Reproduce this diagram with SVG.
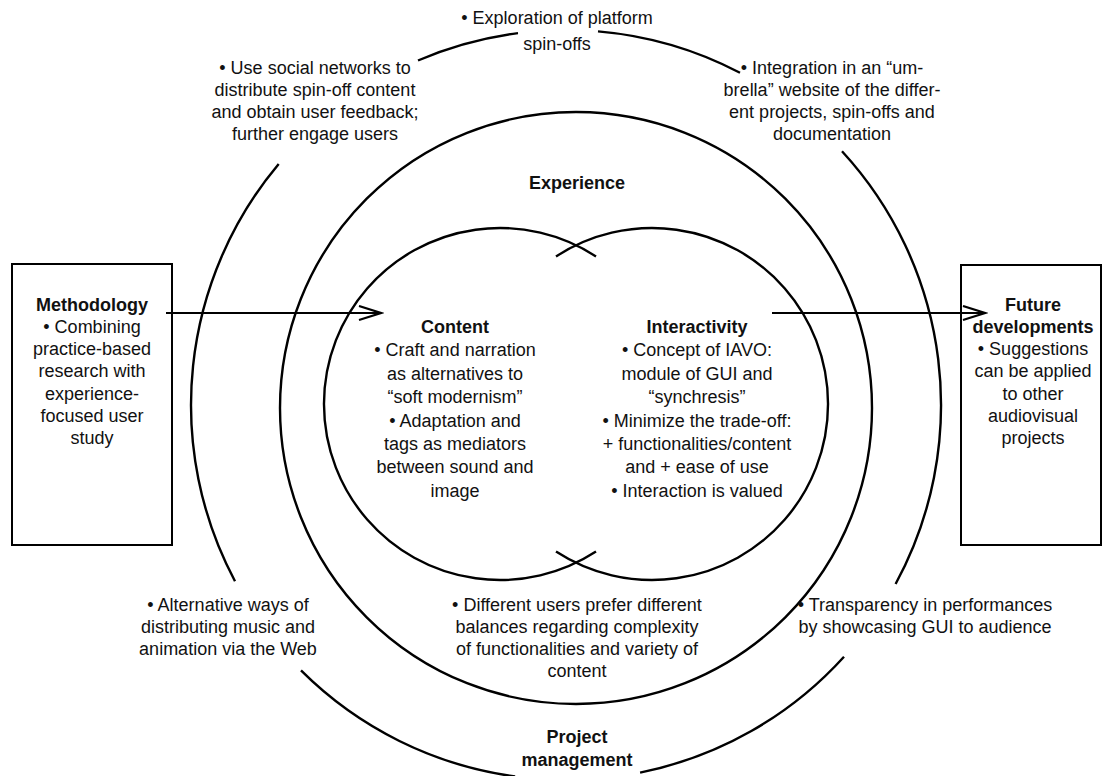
<svg xmlns="http://www.w3.org/2000/svg" width="1113" height="776" viewBox="0 0 1113 776">
  <style>
    text { font-family: "Liberation Sans", Arial, Helvetica, sans-serif; font-size: 18px; fill: #111; text-anchor: middle; }
    .b { font-weight: bold; }
    .ring { fill: none; stroke: #000; stroke-width: 2.4; }
    .box { fill: #fff; stroke: #000; stroke-width: 2; }
    .flow { fill: none; stroke: #000; stroke-width: 2.2; marker-end: url(#chev); }
  </style>
  <defs>
    <marker id="chev" markerUnits="userSpaceOnUse" markerWidth="26" markerHeight="18" refX="23" refY="8" orient="auto">
      <path d="M1,1 L23,8 L1,15" fill="none" stroke="#000" stroke-width="2.2"/>
    </marker>
  </defs>
  <rect width="1113" height="776" fill="#fff"/>

  <!-- outer ring: project management, broken where its notes sit -->
  <g id="ring-outer">
    <path class="ring" d="M598,31.4 A375,375 0 0 1 740,72.8"/>
    <path class="ring" d="M842,151.2 A375,375 0 0 1 895.6,584"/>
    <path class="ring" d="M844,656.7 A375,375 0 0 1 640.1,772.6"/>
    <path class="ring" d="M515.1,776.5 A375,375 0 0 1 301,670.4"/>
    <path class="ring" d="M235,581.2 A375,375 0 0 1 278.7,164"/>
    <path class="ring" d="M418,60.5 A375,375 0 0 1 518,33.1"/>
  </g>

  <!-- middle ring: experience -->
  <g id="ring-experience">
    <circle class="ring" cx="576" cy="408" r="296"/>
  </g>

  <!-- inner pair: content and interactivity -->
  <g id="ring-content">
    <path class="ring" d="M596,256.5 A176,176 0 1 0 596,551.5"/>
  </g>
  <g id="ring-interactivity">
    <path class="ring" d="M556,256.5 A176,176 0 1 1 556,551.5"/>
  </g>

  <g id="node-methodology">
    <rect class="box" x="12" y="264" width="160" height="281"/>
    <text x="92" y="311" class="b">Methodology</text>
    <text x="92" y="333">• Combining</text>
    <text x="92" y="355">practice-based</text>
    <text x="92" y="377">research with</text>
    <text x="92" y="400">experience-</text>
    <text x="92" y="422">focused user</text>
    <text x="92" y="444">study</text>
  </g>

  <g id="node-future">
    <rect class="box" x="961" y="265" width="140" height="280"/>
    <text x="1033" y="311" class="b">Future</text>
    <text x="1033" y="333" class="b">developments</text>
    <text x="1033" y="355">• Suggestions</text>
    <text x="1033" y="377">can be applied</text>
    <text x="1033" y="400">to other</text>
    <text x="1033" y="422">audiovisual</text>
    <text x="1033" y="444">projects</text>
  </g>

  <g id="connectors">
    <line class="flow" x1="166" y1="313" x2="381" y2="313"/>
    <line class="flow" x1="772" y1="313" x2="985" y2="313"/>
  </g>

  <g id="label-content">
    <text x="455" y="333" class="b">Content</text>
    <text x="455" y="356.4">• Craft and narration</text>
    <text x="455" y="379.8">as alternatives to</text>
    <text x="455" y="403.2">“soft modernism”</text>
    <text x="455" y="426.6">• Adaptation and</text>
    <text x="455" y="450">tags as mediators</text>
    <text x="455" y="473.4">between sound and</text>
    <text x="455" y="496.8">image</text>
  </g>

  <g id="label-interactivity">
    <text x="697" y="333" class="b">Interactivity</text>
    <text x="697" y="356.4">• Concept of IAVO:</text>
    <text x="697" y="379.8">module of GUI and</text>
    <text x="697" y="403.2">“synchresis”</text>
    <text x="697" y="426.6">• Minimize the trade-off:</text>
    <text x="697" y="450">+ functionalities/content</text>
    <text x="697" y="473.4">and + ease of use</text>
    <text x="697" y="496.8">• Interaction is valued</text>
  </g>

  <g id="label-experience">
    <text x="577" y="189" class="b">Experience</text>
    <text x="577" y="611">• Different users prefer different</text>
    <text x="577" y="633">balances regarding complexity</text>
    <text x="577" y="655">of functionalities and variety of</text>
    <text x="577" y="677">content</text>
  </g>

  <g id="label-project">
    <text x="557" y="24">• Exploration of platform</text>
    <text x="557" y="50">spin-offs</text>
    <text x="315" y="74">• Use social networks to</text>
    <text x="315" y="96">distribute spin-off content</text>
    <text x="315" y="118">and obtain user feedback;</text>
    <text x="315" y="140">further engage users</text>
    <text x="832" y="74">• Integration in an “um-</text>
    <text x="832" y="96">brella” website of the differ-</text>
    <text x="832" y="118">ent projects, spin-offs and</text>
    <text x="832" y="140">documentation</text>
    <text x="228" y="611">• Alternative ways of</text>
    <text x="228" y="633">distributing music and</text>
    <text x="228" y="655">animation via the Web</text>
    <text x="925" y="611">• Transparency in performances</text>
    <text x="925" y="633">by showcasing GUI to audience</text>
    <text x="577" y="743" class="b">Project</text>
    <text x="577" y="766" class="b">management</text>
  </g>
</svg>
